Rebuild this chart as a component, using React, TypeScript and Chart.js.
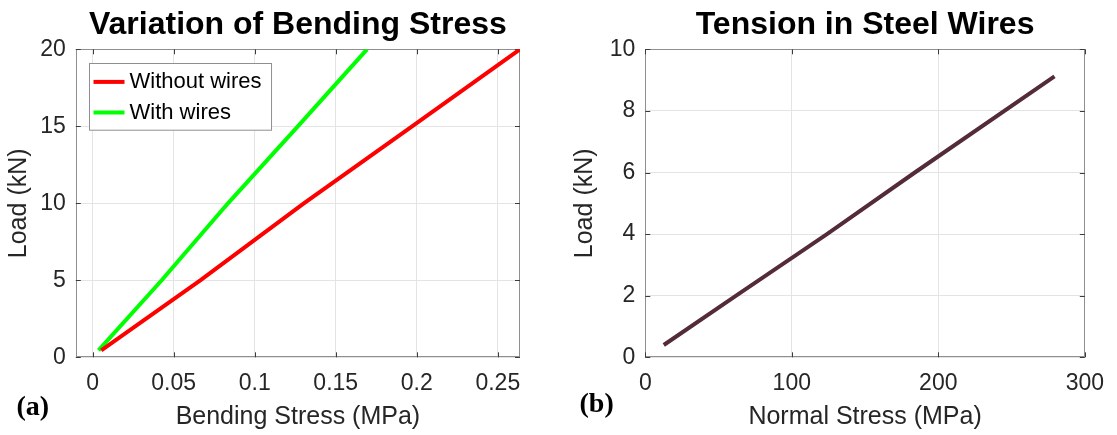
import React, { useEffect, useRef } from 'react';
import { Chart, registerables } from 'chart.js';

Chart.register(...registerables);

// ---- Data ----
const seriesLabels = ['Without wires', 'With wires'];
const loadWithout = [0.45, 5, 10, 15, 20];
const stressWithout = [0.0053, 0.0664, 0.1303, 0.1971, 0.2637];
const loadWith = [0.45, 5, 10, 15, 20];
const stressWith = [0.0036, 0.0426, 0.0835, 0.1266, 0.1693];

const wireStress = [12.6, 62, 124, 184, 279.3];
const wireLoad = [0.4, 2, 4, 6, 9.12];

const bendingXTicks = [0, 0.05, 0.1, 0.15, 0.2, 0.25];
const bendingYTicks = [0, 5, 10, 15, 20];
const tensionXTicks = [0, 100, 200, 300];
const tensionYTicks = [0, 2, 4, 6, 8, 10];

const FONT = "'Liberation Sans', Arial, Helvetica, sans-serif";
const SERIF = "'Liberation Serif', 'Times New Roman', serif";

const matlabAxes = {
  id: 'matlabAxes',
  beforeDatasetsDraw(chart: any) {
    const { ctx, chartArea, scales } = chart;
    const { left, right, top, bottom } = chartArea;
    ctx.save();
    ctx.strokeStyle = '#8f8f8f';
    ctx.lineWidth = 1;
    ctx.strokeRect(Math.round(left) + 0.5, Math.round(top) + 0.5, Math.round(right - left) - 1, Math.round(bottom - top) - 1);
    ctx.strokeStyle = '#3c3c3c';
    const tl = 5;
    ctx.beginPath();
    scales.x.ticks.forEach((t: any) => {
      const px = Math.round(scales.x.getPixelForValue(t.value)) + 0.5;
      ctx.moveTo(px, bottom); ctx.lineTo(px, bottom - tl);
      ctx.moveTo(px, top); ctx.lineTo(px, top + tl);
    });
    scales.y.ticks.forEach((t: any) => {
      const py = Math.round(scales.y.getPixelForValue(t.value)) + 0.5;
      ctx.moveTo(left, py); ctx.lineTo(left + tl, py);
      ctx.moveTo(right, py); ctx.lineTo(right - tl, py);
    });
    ctx.stroke();
    ctx.restore();
  },
};

function makeLegendPlugin(show: boolean) {
  return {
    id: 'boxLegend',
    afterDatasetsDraw(chart: any) {
      if (!show) return;
      const { ctx, chartArea } = chart;
      const bx = Math.round(chartArea.left + 13.5) + 0.5;
      const by = Math.round(chartArea.top + 14) + 0.5;
      ctx.save();
      ctx.font = `22px ${FONT}`;
      const ds = chart.data.datasets;
      let maxW = 0;
      ds.forEach((d: any) => { maxW = Math.max(maxW, ctx.measureText(d.label).width); });
      const w = 40 + maxW + 10;
      const h = 66.7;
      ctx.fillStyle = '#ffffff';
      ctx.fillRect(bx, by, w, h);
      ctx.strokeStyle = '#8f8f8f';
      ctx.lineWidth = 1;
      ctx.strokeRect(bx, by, w, h);
      ds.forEach((d: any, i: number) => {
        const cy = by + 18.4 + i * 30.6;
        ctx.strokeStyle = d.borderColor;
        ctx.lineWidth = 4;
        ctx.beginPath();
        ctx.moveTo(bx + 4, cy);
        ctx.lineTo(bx + 35, cy);
        ctx.stroke();
        ctx.fillStyle = '#000000';
        ctx.textBaseline = 'middle';
        ctx.textAlign = 'left';
        ctx.fillText(d.label, bx + 40, cy);
      });
      ctx.restore();
    },
  };
}

function makePanelLabel(text: string, x: number, y: number) {
  return {
    id: 'panelLabel',
    afterDraw(chart: any) {
      const { ctx } = chart;
      ctx.save();
      ctx.font = `bold 28px ${SERIF}`;
      ctx.fillStyle = '#000000';
      ctx.textBaseline = 'alphabetic';
      ctx.textAlign = 'left';
      ctx.fillText(text, x, y);
      ctx.restore();
    },
  };
}

function makeConfig(opts: any) {
  const tickFont = { family: FONT, size: 23 };
  const labelFont = { family: FONT, size: 25, lineHeight: 1.2 };
  return {
    type: 'line',
    data: { datasets: opts.datasets },
    options: {
      animation: false,
      responsive: false,
      devicePixelRatio: 1,
      events: [],
      layout: { padding: { left: 0, right: opts.rightPad, top: 0, bottom: 0 } },
      elements: { point: { radius: 0 }, line: { tension: 0, borderCapStyle: 'butt' } },
      plugins: {
        legend: { display: false },
        tooltip: { enabled: false },
        title: {
          display: true,
          text: opts.title,
          color: '#000000',
          fullSize: false,
          font: { family: FONT, size: 32, weight: 'bold', lineHeight: 1.2 },
          padding: { top: 6.4, bottom: 4.5 },
        },
      },
      scales: {
        x: {
          type: 'linear',
          min: opts.xMin,
          max: opts.xMax,
          afterBuildTicks: (s: any) => { s.ticks = opts.xTicks.map((v: number) => ({ value: v })); },
          afterFit: (s: any) => { s.height = 435 - 357.3; },
          grid: { color: '#e4e4e4', lineWidth: 1, drawTicks: false },
          border: { display: false },
          ticks: {
            padding: 13, color: '#262626', font: tickFont, maxRotation: 0, autoSkip: false,
            callback: (v: any) => String(v),
          },
          title: { display: true, text: opts.xLabel, color: '#262626', font: labelFont, padding: { top: 0, bottom: 2.7 } },
        },
        y: {
          type: 'linear',
          min: opts.yMin,
          max: opts.yMax,
          afterBuildTicks: (s: any) => { s.ticks = opts.yTicks.map((v: number) => ({ value: v })); },
          afterFit: (s: any) => { s.width = opts.yWidth; },
          grid: { color: '#e4e4e4', lineWidth: 1, drawTicks: false },
          border: { display: false },
          ticks: {
            padding: 10, color: '#262626', font: tickFont, autoSkip: false,
            callback: (v: any) => String(v),
          },
          title: { display: true, text: opts.yLabel, color: '#262626', font: labelFont, padding: { top: opts.yTitlePad, bottom: 0 } },
        },
      },
    },
    plugins: [matlabAxes, makeLegendPlugin(opts.legend), makePanelLabel(opts.panel, opts.panelX, opts.panelY)],
  };
}

function ChartCanvas({ config, left, width }: any) {
  const ref = useRef<HTMLCanvasElement | null>(null);
  useEffect(() => {
    if (!ref.current) return;
    const chart = new Chart(ref.current, config);
    return () => chart.destroy();
  }, []);
  return (
    <canvas
      ref={ref}
      width={width}
      height={435}
      style={{ position: 'absolute', left, top: 0, width, height: 435 }}
    />
  );
}

export default function App() {
  const leftConfig = makeConfig({
    title: 'Variation of Bending Stress',
    xLabel: 'Bending Stress (MPa)',
    yLabel: 'Load (kN)',
    xMin: -0.0104, xMax: 0.2637, yMin: 0, yMax: 20,
    xTicks: bendingXTicks, yTicks: bendingYTicks,
    yWidth: 75.8, rightPad: 40, yTitlePad: 4.6,
    legend: true,
    panel: '(a)', panelX: 16.5, panelY: 415,
    datasets: [
      {
        label: seriesLabels[0],
        data: stressWithout.map((s, i) => ({ x: s, y: loadWithout[i] })),
        borderColor: '#ff0000', borderWidth: 4, fill: false,
      },
      {
        label: seriesLabels[1],
        data: stressWith.map((s, i) => ({ x: s, y: loadWith[i] })),
        borderColor: '#00ff00', borderWidth: 4, fill: false,
      },
    ],
  });
  const rightConfig = makeConfig({
    title: 'Tension in Steel Wires',
    xLabel: 'Normal Stress (MPa)',
    yLabel: 'Load (kN)',
    xMin: 0, xMax: 300, yMin: 0, yMax: 10,
    xTicks: tensionXTicks, yTicks: tensionYTicks,
    yWidth: 85.3, rightPad: 24.1, yTitlePad: 10.3,
    legend: false,
    panel: '(b)', panelX: 19.5, panelY: 412,
    datasets: [
      {
        label: 'Wire tension',
        data: wireStress.map((s, i) => ({ x: s, y: wireLoad[i] })),
        borderColor: '#542c38', borderWidth: 4, fill: false,
      },
    ],
  });
  return (
    <div style={{ position: 'fixed', left: 0, top: 0, width: 1117, height: 435, background: '#ffffff', overflow: 'hidden' }}>
      <ChartCanvas config={leftConfig} left={0} width={560} />
      <ChartCanvas config={rightConfig} left={560} width={557} />
    </div>
  );
}
